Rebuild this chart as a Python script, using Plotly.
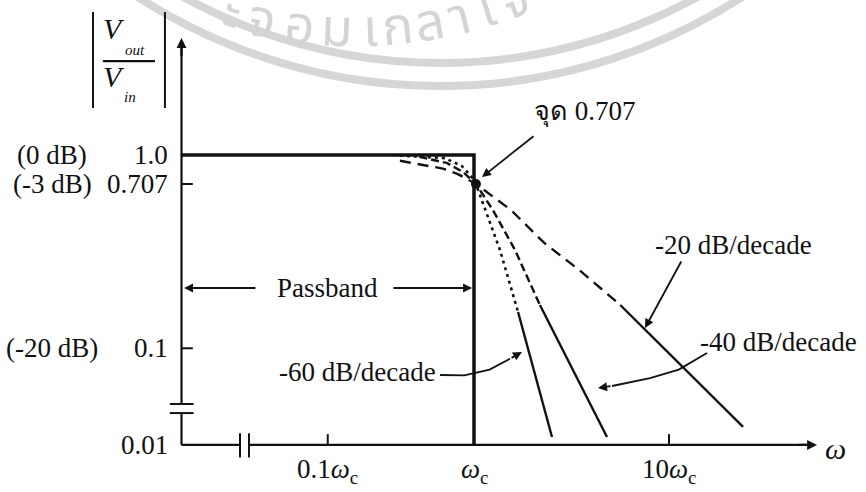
import plotly.graph_objects as go

# ---------------- data (positions in decades: u = log-position of w/wc, v = log-position of |Vout/Vin|) -------------
Y_TICK_POS = [0.0, -0.15, -1.0, -1.5]
Y_TICK_TEXT = ["1.0", "0.707", "0.1", "0.01"]
Y_TICK_DB = ["(0 dB)", "(-3 dB)", "(-20 dB)", ""]
X_TICK_POS = [-0.75, 0.0, 1.0]
X_TICK_TEXT = ["0.1<i>ω</i><sub>c</sub>", "<i>ω</i><sub>c</sub>", "10<i>ω</i><sub>c</sub>"]

IDEAL_U = [-1.5, 0.0, 0.0]
IDEAL_V = [0.0, 0.0, -1.5]

KNEE_U = [0.01]
KNEE_V = [-0.15]

R20_CURVE_U = [-0.38, -0.16, -0.08, 0.01, 0.19, 0.36, 0.54, 0.75]
R20_CURVE_V = [-0.03, -0.07, -0.10, -0.15, -0.285, -0.455, -0.595, -0.776]
R20_ASYM_U = [0.75, 1.38]
R20_ASYM_V = [-0.776, -1.407]

R40_CURVE_U = [-0.28, -0.14, -0.056, -0.01, 0.01, 0.097, 0.21, 0.338]
R40_CURVE_V = [-0.01, -0.041, -0.088, -0.135, -0.15, -0.285, -0.491, -0.776]
R40_ASYM_U = [0.338, 0.682]
R40_ASYM_V = [-0.776, -1.459]

R60_CURVE_U = [-0.38, -0.15, -0.062, -0.015, 0.01, 0.067, 0.133, 0.226]
R60_CURVE_V = [-0.003, -0.016, -0.057, -0.109, -0.15, -0.31, -0.491, -0.812]
R60_ASYM_U = [0.226, 0.40]
R60_ASYM_V = [-0.812, -1.459]

# axis geometry (decade units)
AX_U, AX_V = -1.5, -1.5
AX_U_TIP, AX_V_TIP = 1.759, 0.605
Y_BREAK = [-1.335, -1.288]
X_BREAK = [-1.20, -1.154]

U_RANGE = [-2.4308, 2.0103]
V_RANGE = [-1.7434, 0.8019]

INK = "#111111"
SERIF = "Liberation Serif"
FS = 27

fig = go.Figure()

def line(u, v, width=2.5, dash="solid"):
    fig.add_trace(go.Scatter(x=u, y=v, mode="lines",
                             line=dict(color=INK, width=width, dash=dash),
                             hoverinfo="skip", showlegend=False))

# axes (with breaks)
line([AX_U, AX_U, None, AX_U, AX_U], [AX_V, Y_BREAK[0], None, Y_BREAK[1], AX_V_TIP - 0.05], width=2.2)
line([AX_U, X_BREAK[0], None, X_BREAK[1], AX_U_TIP - 0.05], [AX_V, AX_V, None, AX_V, AX_V], width=2.2)
# break marks
for yb in Y_BREAK:
    line([AX_U - 0.06, AX_U + 0.062], [yb, yb], width=2)
for xb in X_BREAK:
    line([xb, xb], [AX_V - 0.065, AX_V + 0.06], width=2)
# tick marks (inside)
for p in Y_TICK_POS[1:3]:
    line([AX_U, AX_U + 0.058], [p, p], width=2)
for p in [X_TICK_POS[0], X_TICK_POS[2]]:
    line([p, p], [AX_V, AX_V + 0.056], width=2)

# ideal response
line(IDEAL_U, IDEAL_V, width=3.5)

# real responses
line(R20_CURVE_U, R20_CURVE_V, width=2.4, dash="11px,7px")
line(R20_ASYM_U, R20_ASYM_V, width=2.4)
line(R40_CURVE_U, R40_CURVE_V, width=2.4, dash="8px,4px")
line(R40_ASYM_U, R40_ASYM_V, width=2.4)
line(R60_CURVE_U, R60_CURVE_V, width=2.6, dash="3px,4px")
line(R60_ASYM_U, R60_ASYM_V, width=2.4)

fig.add_trace(go.Scatter(x=KNEE_U, y=KNEE_V, mode="markers",
                         marker=dict(color=INK, size=10), hoverinfo="skip", showlegend=False))

# curved pointer lines
ARC40_U = [1.195, 1.05, 0.903, 0.708]
ARC40_V = [-1.024, -1.11, -1.154, -1.195]
ARC60_U = [-0.174, -0.05, 0.08, 0.185]
ARC60_V = [-1.138, -1.14, -1.11, -1.054]
line(ARC40_U, ARC40_V, width=1.8)
line(ARC60_U, ARC60_V, width=1.8)

ann = []
def text(u, v, s, size=FS, xanchor="center", yanchor="middle", italic=False, color=INK, family=SERIF):
    if italic:
        s = "<i>" + s + "</i>"
    ann.append(dict(x=u, y=v, xref="x", yref="y", text=s, showarrow=False,
                    xanchor=xanchor, yanchor=yanchor,
                    font=dict(family=family, size=size, color=color)))

def arrow(u_tail, v_tail, u_tip, v_tip, width=1.8, size=1.0):
    ann.append(dict(x=u_tip, y=v_tip, ax=u_tail, ay=v_tail, xref="x", yref="y",
                    axref="x", ayref="y", text="", showarrow=True, arrowhead=2,
                    arrowsize=size, arrowwidth=width, arrowcolor=INK, standoff=0,
                    font=dict(family=SERIF, size=FS, color=INK)))

# axis arrowheads
arrow(AX_U, AX_V_TIP - 0.1, AX_U, AX_V_TIP, width=2.2, size=0.9)
arrow(AX_U_TIP - 0.1, AX_V, AX_U_TIP, AX_V, width=2.2, size=0.9)

# tick labels
for p, t, d in zip(Y_TICK_POS, Y_TICK_TEXT, Y_TICK_DB):
    text(-1.56, p, t, xanchor="right")
    if d:
        text(-2.164, p, d)
for p, t in zip(X_TICK_POS, X_TICK_TEXT):
    text(p, -1.635, t)
text(1.856, -1.52, "ω", size=30, italic=True)

# y-axis title |Vout/Vin|
text(-1.846, 0.657, "V", size=30, italic=True)
text(-1.738, 0.543, "out", size=15, italic=True)
text(-1.846, 0.404, "V", size=30, italic=True)
text(-1.764, 0.300, "in", size=15, italic=True)

# annotations
text(0.569, 0.222, "จุด 0.707", size=FS)
arrow(0.313, 0.103, 0.041, -0.114)
text(-0.749, -0.688, "Passband", size=FS)
arrow(-1.113, -0.688, -1.487, -0.688)
arrow(-0.421, -0.688, -0.010, -0.688)
text(1.33, -0.466, "-20 dB/decade", size=FS)
arrow(1.067, -0.543, 0.877, -0.895)
text(1.564, -0.967, "-40 dB/decade", size=FS)
arrow(0.708, -1.195, 0.636, -1.205)
text(-0.595, -1.123, "-60 dB/decade", size=FS)
arrow(0.185, -1.054, 0.246, -1.019)

# watermark letters (paper coords)
WM = [("ะ", 232, 14, 16.6), ("จ", 262, 21, 12.5), ("อ", 300, 27, 7.3), ("ม", 337, 30, 2.4),
      ("เ", 370, 30, -2.0), ("ก", 397, 28, -5.6), ("ล", 430, 24, -10.0), ("า", 460, 18, -14.1),
      ("ใ", 487, 10, -17.9), ("จ", 515, 1, -21.8)]
for ch, px, py, ang in WM:
    ann.append(dict(x=px / 866, y=1 - py / 492, xref="paper", yref="paper", text=ch,
                    showarrow=False, textangle=ang, xanchor="center", yanchor="middle",
                    font=dict(family="Noto Sans Thai, Noto Sans, DejaVu Sans, sans-serif",
                              size=52, color="#d4d4d4")))

shapes = [
    dict(type="circle", xref="paper", yref="paper", x0=-0.134, x1=1.150, y0=0.825, y1=3.085,
         line=dict(color="#d6d6d6", width=8), layer="below"),
    dict(type="circle", xref="paper", yref="paper", x0=-0.107, x1=1.124, y0=0.872, y1=3.039,
         line=dict(color="#d6d6d6", width=8), layer="below"),
    # absolute-value bars and fraction line of the axis title
    dict(type="line", xref="x", yref="y", x0=-1.954, x1=-1.954, y0=0.243, y1=0.740,
         line=dict(color=INK, width=2)),
    dict(type="line", xref="x", yref="y", x0=-1.585, x1=-1.585, y0=0.243, y1=0.740,
         line=dict(color=INK, width=2)),
    dict(type="line", xref="x", yref="y", x0=-1.903, x1=-1.636, y0=0.486, y1=0.486,
         line=dict(color=INK, width=2.2)),
]

fig.update_layout(
    width=866, height=492, margin=dict(l=0, r=0, t=0, b=0),
    paper_bgcolor="white", plot_bgcolor="white", showlegend=False,
    font=dict(family=SERIF, size=FS, color=INK),
    xaxis=dict(range=U_RANGE, visible=False, fixedrange=True),
    yaxis=dict(range=V_RANGE, visible=False, fixedrange=True),
    annotations=ann, shapes=shapes,
)

fig.write_html("out.html")
